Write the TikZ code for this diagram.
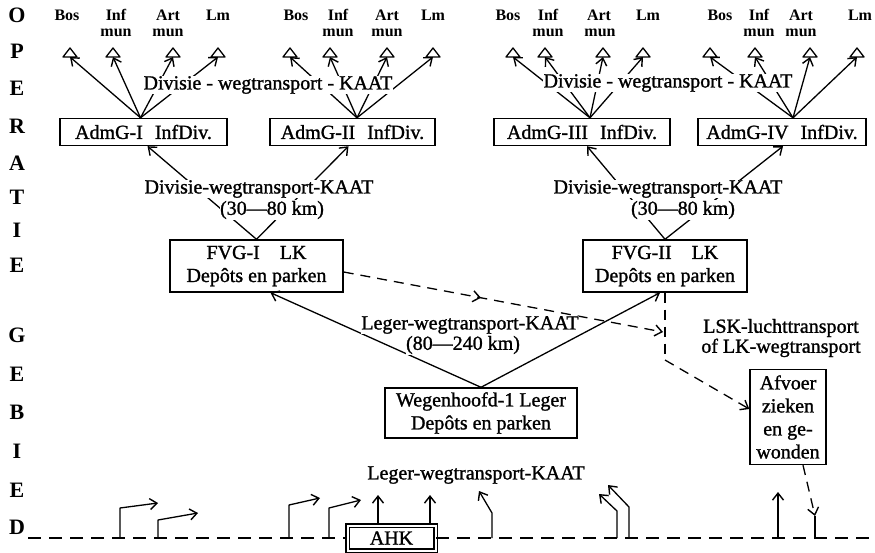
\documentclass[tikz,border=0pt]{standalone}
\usepackage{fontspec}
\setmainfont{Liberation Serif}
\newfontfamily\medium[FakeBold=1.2,Ligatures=TeX]{Liberation Serif}
\usetikzlibrary{arrows.meta,decorations.markings}
\tikzset{
  lbl/.style={font=\medium\fontsize{20}{20}\selectfont, inner sep=0.5pt, fill=white},
  toplbl/.style={font=\bfseries\fontsize{16}{16}\selectfont, inner sep=0pt},
  side/.style={font=\bfseries\fontsize{22}{22}\selectfont, inner sep=0pt},
  box/.style={draw, line width=1.4pt, fill=white, inner sep=0pt, align=center, font=\medium\fontsize{20}{23}\selectfont},
  ln/.style={line width=1.3pt},
  mybarb/.tip={Straight Barb[length=7pt,width=11pt,line width=1.4pt]},
  arr/.style={ln, -mybarb},
  dsh/.style={ln, dash pattern=on 10pt off 7pt},
  basedash/.style={ln, dash pattern=on 13pt off 8pt},
  midarr/.style={postaction={decorate}, decoration={markings, mark=at position #1 with {\arrow{mybarb}}}},
  tri/.pic={\draw[line width=1.3pt, line join=round] (-7,0) -- (0,-9) -- (7,0) -- cycle;}
}
\begin{document}
\begin{tikzpicture}[x=1pt,y=-1pt]
\useasboundingbox (0,0) rectangle (875,553);

% side letters
\foreach \l/\yy [count=\i] in {O/15,P/51,E/88,R/126,A/163,T/197,I/230,E/265,G/335,E/374,B/412,I/451,E/490,D/527}
  {\node[side] (s\i) at (17,\yy) {\l};}

% top labels
\foreach \n/\xx/\w in {b11/67/Bos,b12/116/Inf,b13/168/Art,b14/218/Lm,
  b21/296/Bos,b22/338/Inf,b23/387/Art,b24/433/Lm,
  b31/508/Bos,b32/548/Inf,b33/599/Art,b34/648/Lm,
  b41/720/Bos,b42/759/Inf,b43/801/Art,b44/860/Lm}
  {\node[toplbl] (\n) at (\xx,15) {\w};}
\foreach \n/\xx in {m12/116,m13/168,m22/338,m23/387,m32/548,m33/600,m42/759,m43/801}
  {\node[toplbl] (\n) at (\xx,33) {mun};}

% triangles
\foreach \n/\xx in {t11/70,t12/113,t13/173,t14/218,t21/290,t22/330,t23/387,t24/433,
  t31/513,t32/545,t33/603,t34/643,t41/710,t42/755,t43/810,t44/857}
  {\coordinate (\n) at (\xx,57); \pic at (\n) {tri};}

% boxes
\node[box, minimum width=167, minimum height=27] (a1) at (143.5,132) {AdmG-I\hspace{0.6em}InfDiv.};
\node[box, minimum width=165, minimum height=27] (a2) at (352.5,132) {AdmG-II\hspace{0.6em}InfDiv.};
\node[box, minimum width=176, minimum height=27] (a3) at (582,132) {AdmG-III\hspace{0.6em}InfDiv.};
\node[box, minimum width=168, minimum height=27] (a4) at (782,132) {AdmG-IV\hspace{0.6em}InfDiv.};
\node[box, minimum width=173, minimum height=52] (v1) at (256.5,266) {FVG-I\hspace{1em}LK\\Depôts en parken};
\node[box, minimum width=164, minimum height=52] (v2) at (665,266) {FVG-II\hspace{1em}LK\\Depôts en parken};
\node[box, minimum width=192, minimum height=50] (w) at (481,413) {Wegenhoofd-1 Leger\\Depôts en parken};
\node[box, minimum width=76, minimum height=95] (af) at (788,417) {Afvoer\\zieken\\en ge-\\wonden};
\node[box, double, double distance=2pt, line width=1.2pt, minimum width=88, minimum height=25] (ahk) at (391.5,538) {AHK};

% fans
\coordinate (f1) at ([xshift=-3]a1.north);
\coordinate (f2) at ([xshift=4.5]a2.north);
\coordinate (f3) at ([xshift=8]a3.north);
\coordinate (f4) at ([xshift=11]a4.north);
\foreach \g in {1,...,4}{\foreach \j in {1,...,4}{\draw[arr] (f\g) -- (t\g\j);}}

% division transport
\draw[arr] (v1.north) -- ([xshift=4]a1.south);
\draw[arr] (v1.north) -- ([xshift=-4]a2.south);
\draw[arr] (v2.north) -- ([xshift=5]a3.south);
\draw[arr] (v2.north) -- ([xshift=1]a4.south);

% army transport
\draw[arr] (w.north) -- ([xshift=14]v1.south);
\draw[arr] (w.north) -- ([xshift=-5]v2.south);

% dashed evacuation
\coordinate (j1) at (663,332);
\coordinate (j2) at (665,360);
\draw[dsh, -mybarb, midarr=0.43] ([yshift=-6]v1.east) -- (j1);
\draw[dsh] (v2.south) -- (j2);
\draw[dsh, -mybarb] (j2) -- ([yshift=8]af.west);
\coordinate (y1) at (815,516);
\coordinate (y2) at (815,538);
\draw[dsh, -mybarb] ([xshift=15]af.south) -- (y1);
\draw[ln] (y1) -- (y2);

% baseline
\coordinate (bl0) at (28,538);
\coordinate (bl1) at (875,538);
\draw[basedash] (bl0) -- (ahk.west);
\draw[basedash] (ahk.east) -- (bl1);

% bottom arrows
\coordinate (p1) at (120,538); \coordinate (q1) at (120,508); \coordinate (r1) at (158,503);
\coordinate (p2) at (158,538); \coordinate (q2) at (158,520); \coordinate (r2) at (198,513);
\coordinate (p3) at (289,538); \coordinate (q3) at (289,505); \coordinate (r3) at (320,498);
\coordinate (p4) at (329,538); \coordinate (q4) at (329,508); \coordinate (r4) at (361,500);
\coordinate (p5) at (492,538); \coordinate (q5) at (492,513); \coordinate (r5) at (479,491);
\coordinate (p6) at (617,538); \coordinate (q6) at (617,511); \coordinate (r6) at (599,494);
\coordinate (p7) at (629,538); \coordinate (q7) at (629,507); \coordinate (r7) at (608,485);
\foreach \k in {1,...,7}{\draw[arr, line join=round] (p\k) -- (q\k) -- (r\k);}
\coordinate (u1) at (378,495);
\coordinate (u2) at (430,495);
\draw[arr] ([xshift=-13.5]ahk.north) -- (u1);
\draw[arr] ([xshift=38.5]ahk.north) -- (u2);
\coordinate (u3b) at (778,538);
\coordinate (u3) at (778,492);
\draw[arr] (u3b) -- (u3);

% labels
\node[lbl] (d1) at (268,85) {Divisie - wegtransport - KAAT};
\node[lbl] (d2) at (668,83) {Divisie - wegtransport - KAAT};
\node[lbl] (k1) at (259,189) {Divisie-wegtransport-KAAT};
\node[lbl] (k1b) at (272,210) {(30—80 km)};
\node[lbl] (k2) at (668,189) {Divisie-wegtransport-KAAT};
\node[lbl] (k2b) at (683,210) {(30—80 km)};
\node[lbl] (l1) at (470,325) {Leger-wegtransport-KAAT};
\node[lbl] (l1b) at (463,345) {(80—240 km)};
\node[lbl, align=center, font=\medium\fontsize{20}{20}\selectfont] (lsk) at (781,338) {LSK-luchttransport\\of LK-wegtransport};
\node[lbl] (l2) at (476,475) {Leger-wegtransport-KAAT};
\end{tikzpicture}
\end{document}
